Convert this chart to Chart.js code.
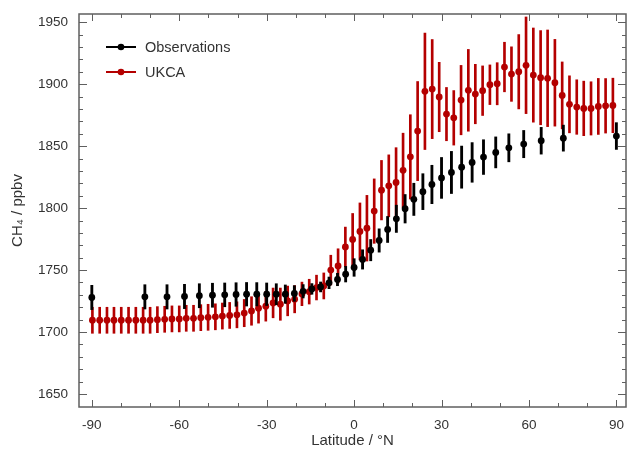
<!DOCTYPE html>
<html>
<head>
<meta charset="utf-8">
<script src="https://cdn.jsdelivr.net/npm/chart.js@4/dist/chart.umd.min.js"></script>
<style>
  html, body { margin: 0; padding: 0; background: #fff; }
  #wrap { width: 630px; height: 453px; position: relative; }
</style>
</head>
<body>
<div id="wrap"><canvas id="chart"></canvas></div>
<script>
// UKCA model, zonal mean CH4 (ppbv) with spread
const ukcaLat = [
  -89.8, -87.3, -84.8, -82.4, -79.9, -77.4, -74.9, -72.4, -70.0, -67.5,
  -65.0, -62.5, -60.0, -57.6, -55.1, -52.6, -50.1, -47.6, -45.2, -42.7,
  -40.2, -37.7, -35.2, -32.8, -30.3, -27.8, -25.3, -22.8, -20.4, -17.9,
  -15.4, -12.9, -10.4, -8.0, -5.5, -3.0, -0.5, 2.0, 4.4, 6.9,
  9.4, 11.9, 14.4, 16.8, 19.3, 21.8, 24.3, 26.8, 29.2, 31.7,
  34.2, 36.7, 39.2, 41.6, 44.1, 46.6, 49.1, 51.6, 54.0, 56.5,
  59.0, 61.5, 64.0, 66.4, 68.9, 71.4, 73.9, 76.4, 78.8, 81.3,
  83.8, 86.3, 88.8
];
const ukcaCH4 = [
  1709.5, 1709.5, 1709.5, 1709.5, 1709.5, 1709.5, 1709.5, 1709.5, 1709.5, 1710.0,
  1710.3, 1710.6, 1710.6, 1711.1, 1711.1, 1711.6, 1711.9, 1712.3, 1712.9, 1713.4,
  1713.9, 1715.3, 1717.0, 1719.2, 1720.8, 1723.5, 1722.5, 1725.1, 1726.5, 1730.8,
  1732.6, 1735.9, 1737.2, 1750.0, 1753.4, 1768.7, 1774.7, 1781.2, 1783.8, 1797.6,
  1814.5, 1818.0, 1820.8, 1830.5, 1841.4, 1862.2, 1894.3, 1896.1, 1889.7, 1875.9,
  1872.9, 1887.2, 1895.1, 1892.1, 1894.8, 1899.6, 1900.4, 1913.9, 1908.2, 1910.1,
  1915.3, 1907.4, 1905.3, 1904.8, 1901.2, 1891.0, 1883.8, 1881.6, 1880.5, 1880.5,
  1882.1, 1882.6, 1882.9
];
const ukcaErr = [
  10.5, 10.5, 10.5, 10.5, 10.5, 10.5, 10.5, 10.5, 10.5, 10.5,
  10.5, 10.5, 10.5, 10.5, 10.5, 10.5, 10.5, 10.5, 10.5, 10.5,
  10.5, 11.0, 11.5, 12.0, 12.0, 12.0, 13.0, 12.0, 11.0, 9.5,
  10.0, 10.0, 10.5, 12.0, 13.8, 16.0, 21.0, 23.0, 26.5, 26.0,
  24.0, 25.0, 28.0, 30.0, 34.0, 40.0, 47.0, 40.0, 28.0, 21.5,
  22.0, 28.0, 33.0, 24.0, 20.0, 16.0, 17.0, 20.0, 22.0, 30.0,
  39.0, 38.0, 38.0, 39.0, 35.0, 27.0, 23.0, 22.0, 22.0, 21.5,
  22.6, 22.0, 22.0
];

// observations, binned
const obsLat = [
  -90.0, -71.8, -64.2, -58.2, -53.1, -48.6, -44.4, -40.5, -36.9, -33.4,
  -30.0, -26.7, -23.6, -20.5, -17.5, -14.5, -11.5, -8.6, -5.7, -2.9,
  0.0, 2.9, 5.7, 8.6, 11.5, 14.5, 17.5, 20.5, 23.6, 26.7,
  30.0, 33.4, 36.9, 40.5, 44.4, 48.6, 53.1, 58.2, 64.2, 71.8,
  90.0
];
const obsCH4 = [
  1727.9, 1728.4, 1728.4, 1728.7, 1729.3, 1729.7, 1730.0, 1730.3, 1730.5, 1730.5,
  1730.5, 1730.5, 1730.6, 1731.1, 1732.9, 1734.8, 1736.4, 1739.7, 1742.4, 1746.7,
  1752.1, 1758.6, 1766.1, 1773.9, 1782.8, 1791.4, 1799.5, 1807.1, 1813.3, 1819.1,
  1824.4, 1828.8, 1833.1, 1836.9, 1841.2, 1845.0, 1848.7, 1851.7, 1854.4, 1856.5,
  1858.2
];
const obsErr = [
  9.8, 9.8, 9.8, 9.8, 9.7, 9.7, 9.6, 9.5, 9.5, 9.4,
  9.1, 8.5, 7.4, 6.3, 5.4, 4.3, 4.0, 4.7, 5.0, 6.3,
  7.1, 7.8, 8.6, 9.4, 10.5, 11.0, 11.5, 13.0, 14.5, 15.5,
  16.5, 17.0, 17.0, 16.0, 14.0, 12.5, 11.3, 11.0, 10.8, 10.5,
  10.8
];

const xTickValues = [-90, -60, -30, 0, 30, 60, 90];
const yTickValues = [1650, 1700, 1750, 1800, 1850, 1900, 1950];

const RED = "#b40000";
const BLACK = "#000000";
const AXIS = "#5f5f5f";
const TEXT = "#333333";
const FONT = "'Liberation Sans', Arial, Helvetica, sans-serif";

function points(lat, val) {
    return lat.map((x, i) => ({ x: x, y: val[i] }));
}

function bars(lat, val, err) {
    return lat.map((x, i) => ({ x: x, y: [val[i] - err[i], val[i] + err[i]] }));
}

// keep chart.js from adding its own label overhang padding
function noOverhang(s) {
    s.paddingTop = 0;
    s.paddingBottom = 0;
    s.paddingLeft = 0;
    s.paddingRight = 0;
}

// box frame with inward ticks on all four sides
const frameTicks = {
    id: "frameTicks",
    afterDraw(chart) {
        const { ctx, chartArea: a, scales } = chart;
        const xs = scales.x, ys = scales.y;
        ctx.save();
        ctx.strokeStyle = AXIS;
        ctx.lineWidth = 1;
        for (let v = -90; v <= 90; v += 10) {
            const px = Math.round(xs.getPixelForValue(v)) + 0.5;
            const len = v % 30 === 0 ? 7 : 4;
            ctx.beginPath();
            ctx.moveTo(px, a.bottom); ctx.lineTo(px, a.bottom - len);
            ctx.moveTo(px, a.top); ctx.lineTo(px, a.top + len);
            ctx.stroke();
        }
        for (let v = 1650; v <= 1950; v += 10) {
            const py = Math.round(ys.getPixelForValue(v)) + 0.5;
            const len = v % 50 === 0 ? 8 : 4;
            ctx.beginPath();
            ctx.moveTo(a.left, py); ctx.lineTo(a.left + len, py);
            ctx.moveTo(a.right, py); ctx.lineTo(a.right - len, py);
            ctx.stroke();
        }
        ctx.lineWidth = 1.5;
        ctx.strokeRect(a.left, a.top, a.right - a.left, a.bottom - a.top);
        ctx.restore();
    }
};

// legend inside the plot: line + dot + label
const insideLegend = {
    id: "insideLegend",
    afterDraw(chart) {
        const { ctx, chartArea: a } = chart;
        const rows = [
            { text: "Observations", color: BLACK, dy: 33 },
            { text: "UKCA", color: RED, dy: 58 }
        ];
        ctx.save();
        ctx.font = "14.5px " + FONT;
        ctx.textBaseline = "middle";
        rows.forEach(r => {
            const y = a.top + r.dy;
            ctx.strokeStyle = r.color;
            ctx.lineWidth = 2;
            ctx.beginPath();
            ctx.moveTo(a.left + 27, y);
            ctx.lineTo(a.left + 57, y);
            ctx.stroke();
            ctx.fillStyle = r.color;
            ctx.beginPath();
            ctx.arc(a.left + 42, y, 3.3, 0, Math.PI * 2);
            ctx.fill();
            ctx.fillStyle = TEXT;
            ctx.fillText(r.text, a.left + 66, y + 1);
        });
        ctx.restore();
    }
};

const ctx = document.getElementById("chart").getContext("2d");

new Chart(ctx, {
    type: "scatter",
    data: {
        datasets: [
            {
                type: "bar",
                label: "UKCA range",
                data: bars(ukcaLat, ukcaCH4, ukcaErr),
                backgroundColor: RED,
                barThickness: 2,
                grouped: false,
                order: 4
            },
            {
                type: "scatter",
                label: "UKCA",
                data: points(ukcaLat, ukcaCH4),
                backgroundColor: RED,
                borderWidth: 0,
                pointRadius: 3.4,
                order: 3
            },
            {
                type: "bar",
                label: "Observations range",
                data: bars(obsLat, obsCH4, obsErr),
                backgroundColor: BLACK,
                barThickness: 2.2,
                grouped: false,
                order: 2
            },
            {
                type: "scatter",
                label: "Observations",
                data: points(obsLat, obsCH4),
                backgroundColor: BLACK,
                borderWidth: 0,
                pointRadius: 3.4,
                order: 1
            }
        ]
    },
    options: {
        responsive: true,
        maintainAspectRatio: false,
        animation: false,
        layout: { padding: { top: 14, right: 2, left: 0, bottom: 0 } },
        plugins: {
            legend: { display: false },
            tooltip: { enabled: false }
        },
        scales: {
            x: {
                type: "linear",
                min: -94.4,
                max: 93.3,
                offset: false,
                grid: { display: false, drawTicks: false },
                border: { display: false },
                afterBuildTicks: (s) => { s.ticks = xTickValues.map(v => ({ value: v })); },
                afterFit: (s) => { s.height = 46; noOverhang(s); },
                ticks: {
                    autoSkip: false,
                    maxRotation: 0,
                    padding: 10,
                    color: TEXT,
                    font: { family: FONT, size: 13.5 },
                    callback: (v) => String(v)
                },
                title: {
                    display: true,
                    text: "Latitude / °N",
                    color: TEXT,
                    font: { family: FONT, size: 15 },
                    padding: { top: 0, bottom: 3 }
                }
            },
            y: {
                type: "linear",
                min: 1639.5,
                max: 1956.7,
                grid: { display: false, drawTicks: false },
                border: { display: false },
                afterBuildTicks: (s) => { s.ticks = yTickValues.map(v => ({ value: v })); },
                afterFit: (s) => { s.width = 79; noOverhang(s); },
                ticks: {
                    autoSkip: false,
                    padding: 11,
                    color: TEXT,
                    font: { family: FONT, size: 13.5 },
                    callback: (v) => String(v)
                },
                title: {
                    display: true,
                    text: "CH₄ / ppbv",
                    color: TEXT,
                    font: { family: FONT, size: 15 },
                    padding: { top: 9, bottom: 0 }
                }
            }
        }
    },
    plugins: [frameTicks, insideLegend]
});
</script>
</body>
</html>
